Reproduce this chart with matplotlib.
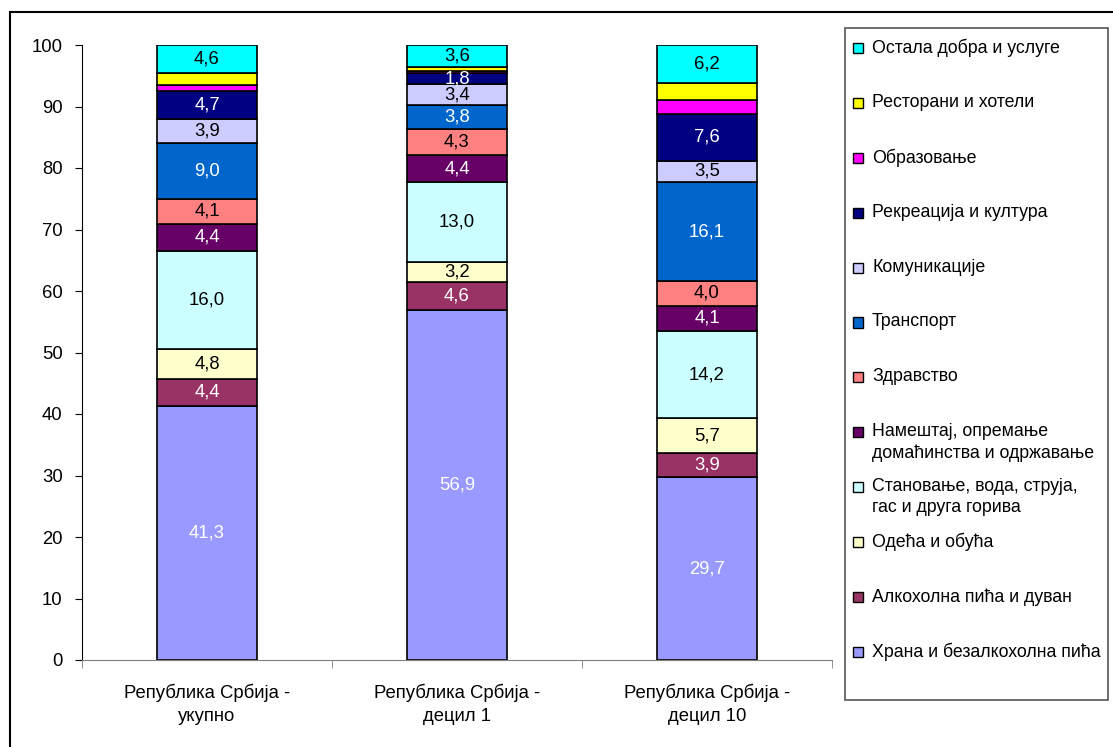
import matplotlib.pyplot as plt
import numpy as np
from matplotlib.patches import Rectangle

plt.rcParams['font.family'] = ['Liberation Sans', 'DejaVu Sans']

groups = ["Република Србија -\nукупно", "Република Србија -\nдецил 1", "Република Србија -\nдецил 10"]

categories = [
    "Храна и безалкохолна пића",
    "Алкохолна пића и дуван",
    "Одећа и обућа",
    "Становање, вода, струја,\nгас и друга горива",
    "Намештај, опремање\nдомаћинства и одржавање",
    "Здравство",
    "Транспорт",
    "Комуникације",
    "Рекреација и култура",
    "Образовање",
    "Ресторани и хотели",
    "Остала добра и услуге",
]

# shares (%) per category, bottom to top
total = [41.3, 4.4, 4.8, 16.0, 4.4, 4.1, 9.0, 3.9, 4.7, 0.9, 1.9, 4.6]
decile1 = [56.9, 4.6, 3.2, 13.0, 4.4, 4.3, 3.8, 3.4, 1.8, 0.4, 0.6, 3.6]
decile10 = [29.7, 3.9, 5.7, 14.2, 4.1, 4.0, 16.1, 3.5, 7.6, 2.2, 2.8, 6.2]

colors = ["#9999FF", "#993366", "#FFFFCC", "#CCFFFF", "#660066", "#FF8080",
          "#0066CC", "#CCCCFF", "#000080", "#FF00FF", "#FFFF00", "#00FFFF"]
label_colors = ["white", "white", "black", "black", "white", "black",
                "white", "black", "white", None, None, "black"]

W, H = 1113, 747


def fx(px):
    return px / W


def fy(py):
    return 1 - py / H


fig = plt.figure(figsize=(W / 100, H / 100), dpi=100)
ax = fig.add_axes([fx(82), fy(660), 750 / W, 615 / H])

data = np.array([total, decile1, decile10])
x = np.arange(len(groups))
bottom = np.zeros(len(groups))
for i, cat in enumerate(categories):
    vals = data[:, i]
    ax.bar(x, vals, 0.4, bottom=bottom, color=colors[i], edgecolor='black', linewidth=1.2, zorder=2)
    if label_colors[i] is not None:
        for xi, b, v in zip(x, bottom, vals):
            ax.text(xi, b + v / 2, f"{v:.1f}".replace('.', ','), ha='center', va='center',
                    fontsize=13.3, color=label_colors[i], zorder=3)
    bottom += vals

ax.set_xlim(-0.5, 2.5)
ax.set_ylim(0, 100)
ax.set_yticks(range(0, 101, 10))
ax.set_xticks(x)
ax.set_xticklabels(groups, fontsize=13.3, linespacing=1.45)
ax.set_xticks([-0.5, 0.5, 1.5, 2.5], minor=True)
ax.tick_params(axis='x', which='major', length=0, pad=17)
ax.tick_params(axis='x', which='minor', length=6, color='#808080', direction='out')
ax.tick_params(axis='y', length=5, pad=9, labelsize=13.3, direction='out')
for s in ['top', 'right']:
    ax.spines[s].set_visible(False)
ax.spines['bottom'].set_color('#808080')
ax.spines['left'].set_color('black')

# outer chart frame
fig.patches.append(Rectangle((fx(10), fy(H + 5)), fx(W + 5) - fx(10), fy(12) - fy(H + 5),
                             transform=fig.transFigure, fill=False, edgecolor='black',
                             linewidth=1.5, clip_on=False))

# legend box
fig.patches.append(Rectangle((fx(845), fy(700)), fx(1108) - fx(845), fy(28) - fy(700),
                             transform=fig.transFigure, facecolor='white', edgecolor='#555555',
                             linewidth=1.2))
for k, i in enumerate(range(len(categories) - 1, -1, -1)):
    yc = 48 + k * 54.9
    fig.patches.append(Rectangle((fx(853), fy(yc + 5)), 10 / W, 10 / H,
                                 transform=fig.transFigure, facecolor=colors[i],
                                 edgecolor='black', linewidth=1.0))
    fig.text(fx(872), fy(yc - 9), categories[i], ha='left', va='top', fontsize=12.8,
             linespacing=1.3)

fig.savefig('out.png', dpi=100)
